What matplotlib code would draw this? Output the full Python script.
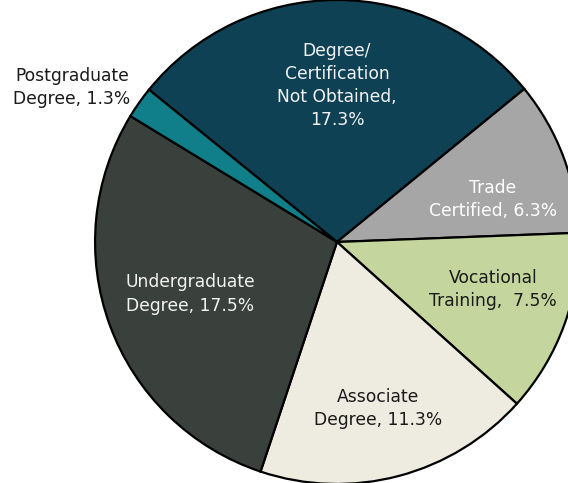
import matplotlib.pyplot as plt

# education attainment shares (as labelled in the source)
categories = ["Degree/\nCertification\nNot Obtained,\n", "Trade\nCertified, ", "Vocational\nTraining,  ",
              "Associate\nDegree, ", "Undergraduate\nDegree, ", "Postgraduate\nDegree, "]
shares = [17.3, 6.3, 7.5, 11.3, 17.5, 1.3]
colors = ["#0E4154", "#A6A6A6", "#C4D69D", "#EEECE1", "#3A413C", "#117F8A"]
text_colors = ["#f2f2f2", "white", "#1a1a1a", "#1a1a1a", "#f2f2f2", "#1a1a1a"]

# label anchors (layout, in pie-radius units)
label_pos = [(0.0, 0.648), (0.645, 0.175), (0.645, -0.197), (0.17, -0.687), (-0.607, -0.215), (-1.095, 0.637)]

fig = plt.figure(figsize=(5.68, 4.83), dpi=100)
ax = fig.add_axes([0, 0, 1, 1])
ax.pie(shares, colors=colors, startangle=141, counterclock=False,
       wedgeprops=dict(edgecolor="black", linewidth=1.6))

for cat, val, pos, tc in zip(categories, shares, label_pos, text_colors):
    ax.text(pos[0], pos[1], cat + "%.1f%%" % val,
            ha="center", va="center", color=tc, fontsize=12.3, linespacing=1.36,
            family="DejaVu Sans")

ax.set_aspect("auto")
ax.set_xlim(-1.393, 0.955)
ax.set_ylim(-0.996, 1.0)
ax.axis("off")
fig.savefig("out.png", dpi=100)
